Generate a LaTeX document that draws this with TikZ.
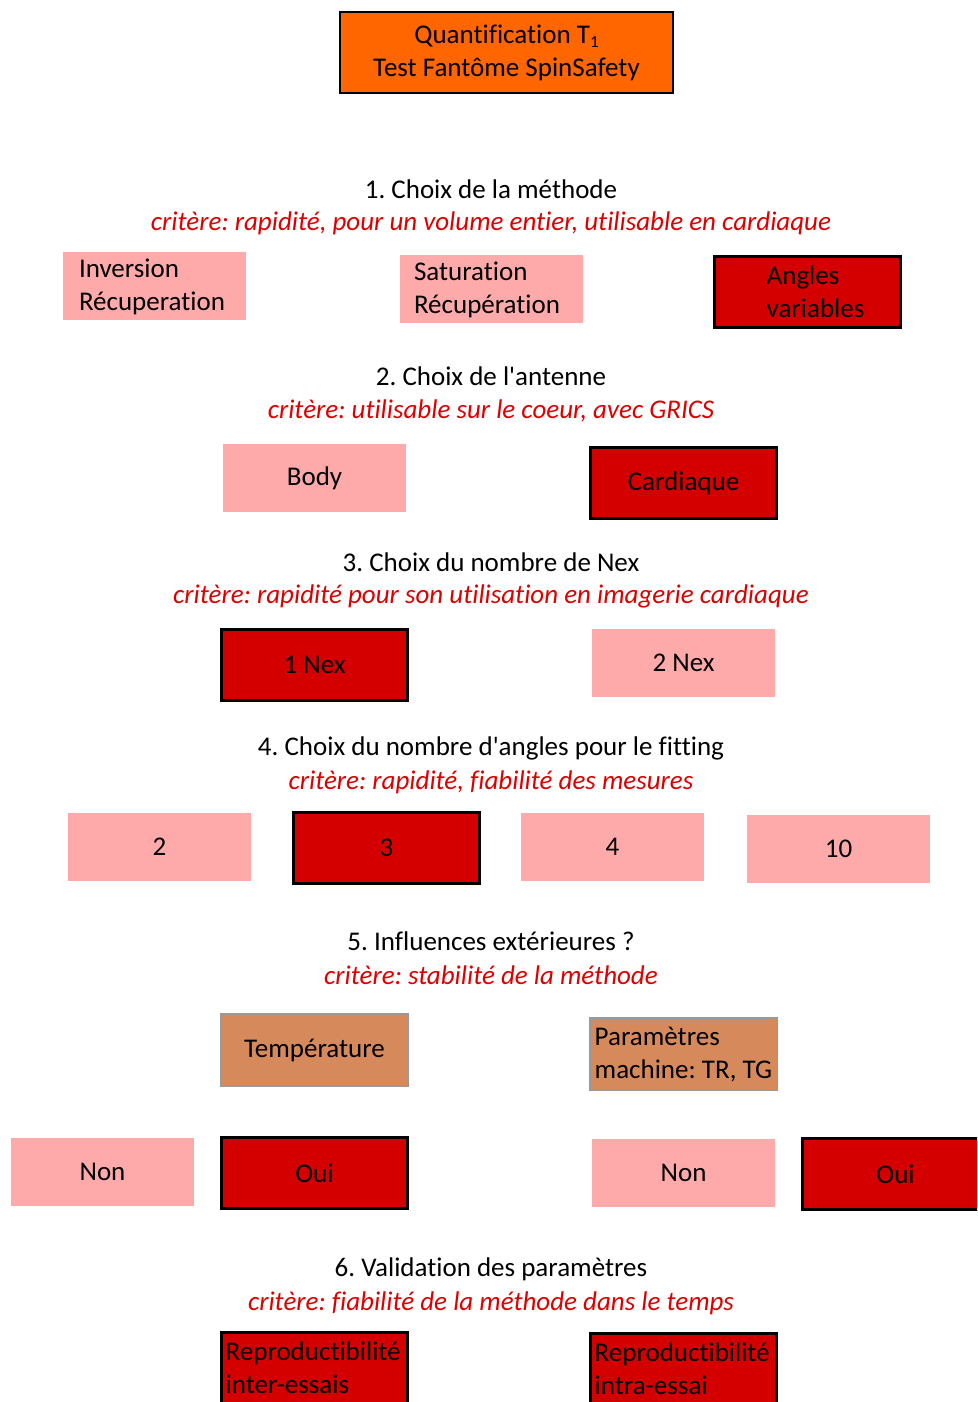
\documentclass[tikz,border=0pt]{standalone}
\usepackage{fontspec}
\setmainfont{Carlito}[Ligatures={NoCommon}]
\frenchspacing
\definecolor{pinkc}{HTML}{FFAAAA}
\definecolor{redc}{HTML}{D40000}
\definecolor{orangec}{HTML}{FF6600}
\definecolor{tanc}{HTML}{D68A5C}
\definecolor{critc}{HTML}{DD0000}
\newcommand{\lowsub}[1]{\raisebox{-0.35ex}{\fontsize{17}{17}\selectfont #1}}
\begin{document}
\begin{tikzpicture}[x=1pt,y=-1pt,
  every node/.style={font=\fontsize{27}{33}\selectfont},
  pinkbox/.style={fill=pinkc, draw=none, minimum width=183, minimum height=68, inner sep=0pt},
  redbox/.style={fill=redc, draw=black, line width=3pt, minimum width=186, minimum height=71, inner sep=0pt},
  tanbox/.style={fill=tanc, draw=gray!80, line width=1.5pt, minimum width=187.5, minimum height=72.5, inner sep=0pt},
  titlebox/.style={fill=orangec, draw=black, line width=2pt, minimum width=333, minimum height=81, align=center, inner sep=0pt},
  head/.style={inner sep=0pt, anchor=center, yshift=-1.5pt},
  crit/.style={inner sep=0pt, anchor=center, yshift=-1.5pt, text=critc, font=\fontsize{27}{33}\selectfont\itshape},
  lefttext/.style={anchor=west, align=left, inner sep=0pt}
]
\clip (0,0) rectangle (977,1402);
\useasboundingbox (0,0) rectangle (977,1402);

\node[titlebox] (title) at (506.5,52.5) {Quantification T\lowsub{1}\\Test Fantôme SpinSafety};

% 1
\node[head] (h1) at (491,188) {1. Choix de la méthode};
\node[crit] (c1) at (491,222) {critère: rapidité, pour un volume entier, utilisable en cardiaque};
\node[pinkbox] (inv) at (154.5,286) {};
\node[lefttext] (invt) at ([xshift=16,yshift=-1]inv.west) {Inversion\\Récuperation};
\node[pinkbox] (sat) at (491.5,289) {};
\node[lefttext] (satt) at ([xshift=14,yshift=-1]sat.west) {Saturation\\Récupération};
\node[redbox] (ang) at (807.5,292) {};
\node[lefttext] (angt) at ([xshift=53.5]ang.west) {Angles\\variables};

% 2
\node[head] (h2) at (491,375) {2. Choix de l\textquotesingle antenne};
\node[crit] (c2) at (491,409) {critère: utilisable sur le coeur, avec GRICS};
\node[pinkbox] (body) at (314.5,478) {Body};
\node[redbox] (card) at (683.5,483) {Cardiaque};

% 3
\node[head] (h3) at (491,561) {3. Choix du nombre de Nex};
\node[crit] (c3) at (491,595) {critère: rapidité pour son utilisation en imagerie cardiaque};
\node[redbox] (nex1) at (314.5,665) {1 Nex};
\node[pinkbox] (nex2) at (683.5,663) {2 Nex};

% 4
\node[head] (h4) at (491,747) {4. Choix du nombre d\textquotesingle angles pour le fitting};
\node[crit] (c4) at (491,781) {critère: rapidité, fiabilité des mesures};
\node[pinkbox] (a2) at (159.5,847) {2};
\node[redbox] (a3) at (386.5,848) {3};
\node[pinkbox] (a4) at (612.5,847) {4};
\node[pinkbox] (a10) at (838.5,849) {10};

% 5
\node[head] (h5) at (491,940) {5. Influences extérieures ?};
\node[crit] (c5) at (491,974) {critère: stabilité de la méthode};
\node[tanbox] (temp) at (314.5,1050) {Température};
\node[tanbox] (param) at (683.5,1054) {};
\node[lefttext] (paramt) at ([xshift=5.5]param.west) {Paramètres\\machine: TR, TG};
\node[pinkbox] (non1) at (102.5,1172) {Non};
\node[redbox] (oui1) at (314.5,1173) {Oui};
\node[pinkbox] (non2) at (683.5,1173) {Non};
\node[redbox] (oui2) at (895.5,1174) {Oui};

% 6
\node[head] (h6) at (491,1268) {6. Validation des paramètres};
\node[crit] (c6) at (491,1302) {critère: fiabilité de la méthode dans le temps};
\node[redbox] (rep1) at (314.5,1368) {};
\node[lefttext] (rep1t) at ([xshift=5.5,yshift=0]rep1.west) {Reproductibilité\\inter-essais};
\node[redbox] (rep2) at (683.5,1369) {};
\node[lefttext] (rep2t) at ([xshift=5.5,yshift=0]rep2.west) {Reproductibilité\\intra-essai};
\end{tikzpicture}
\end{document}
